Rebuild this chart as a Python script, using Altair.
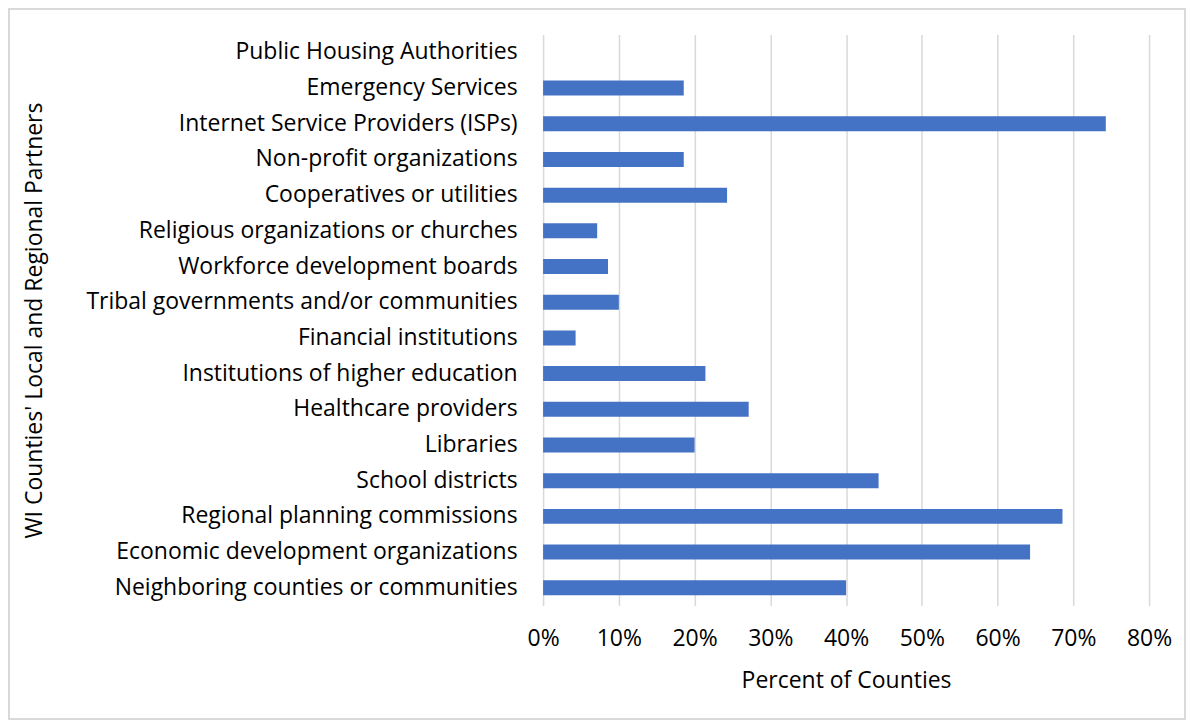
import altair as alt
import pandas as pd

partners = [
    "Public Housing Authorities",
    "Emergency Services",
    "Internet Service Providers (ISPs)",
    "Non-profit organizations",
    "Cooperatives or utilities",
    "Religious organizations or churches",
    "Workforce development boards",
    "Tribal governments and/or communities",
    "Financial institutions",
    "Institutions of higher education\u00a0",
    "Healthcare providers",
    "Libraries",
    "School districts",
    "Regional planning commissions\u00a0",
    "Economic development organizations\u00a0",
    "Neighboring counties or communities",
]
percents = [
    0.0, 0.1857, 0.7429, 0.1857, 0.2429, 0.0714, 0.0857, 0.1000,
    0.0429, 0.2143, 0.2714, 0.2000, 0.4429, 0.6857, 0.6429, 0.4000,
]

df = pd.DataFrame({"partner": partners, "pct": percents})

FONT = "Open Sans"
FS = 23
W, H = 607, 572
PL, PT = 536, 26

bars = alt.Chart(df).mark_bar(color="#4472C4", size=15).encode(
    x=alt.X(
        "pct:Q",
        scale=alt.Scale(domain=[0, 0.8], nice=False),
        axis=alt.Axis(
            format=".0%",
            values=[0, 0.1, 0.2, 0.3, 0.4, 0.5, 0.6, 0.7, 0.8],
            title="Percent of Counties",
            grid=True,
            gridColor="#d9d9d9",
            gridWidth=1.5,
            domain=False,
            ticks=False,
            labelFlush=False,
            labelPadding=22,
            labelFontSize=FS,
            labelFont=FONT,
            labelColor="#000000",
            titleFont=FONT,
            titleFontSize=FS,
            titleFontWeight="normal",
            titleColor="#000000",
            titleY=75,
            titleBaseline="middle",
        ),
    ),
    y=alt.Y(
        "partner:N",
        sort=partners,
        scale=alt.Scale(paddingInner=0.56, paddingOuter=0.28),
        axis=alt.Axis(
            title="WI Counties' Local and Regional Partners",
            domain=False,
            ticks=False,
            labelPadding=26,
            labelFontSize=FS,
            labelFont=FONT,
            labelColor="#000000",
            labelLimit=520,
            titleFont=FONT,
            titleFontSize=FS,
            titleFontWeight="normal",
            titleColor="#000000",
            titleX=-509,
            titleBaseline="middle",
        ),
    ),
)

frame = alt.Chart(df).mark_rect(
    fill=None, stroke="#d9d9d9", strokeWidth=1.5
).encode(
    x=alt.value(-PL + 0.75),
    x2=alt.value(1180 - PL - 0.75),
    y=alt.value(-PT + 0.75),
    y2=alt.value(712 - PT - 0.75),
)

chart = alt.layer(frame, bars).properties(
    width=W,
    height=H,
    autosize=alt.AutoSizeParams(type="none"),
    padding={"left": PL, "top": PT, "right": 1180 - PL - W, "bottom": 712 - PT - H},
    background="white",
).configure_view(stroke=None)

chart.save("out.html", embed_options={"renderer": "svg", "actions": False})
